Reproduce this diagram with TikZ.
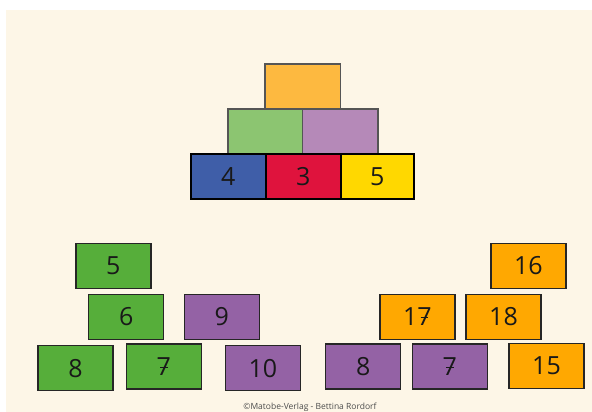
\documentclass[tikz,border=0pt]{standalone}
\usepackage{fontspec}
\setmainfont{Open Sans}
\definecolor{cream}{HTML}{FDF6E7}
\definecolor{topor}{HTML}{FDB940}
\definecolor{lgreen}{HTML}{8CC571}
\definecolor{lpurple}{HTML}{B589B8}
\definecolor{pblue}{HTML}{3F5EA8}
\definecolor{pred}{HTML}{DF133D}
\definecolor{pyellow}{HTML}{FFD800}
\definecolor{dgreen}{HTML}{56AE3A}
\definecolor{dpurple}{HTML}{9462A5}
\definecolor{dorange}{HTML}{FFA801}
\definecolor{greyline}{HTML}{555555}
\newcommand{\crossseven}{\ooalign{7\cr\hidewidth\raisebox{0.3em}{\rule{0.3em}{0.05em}}\hidewidth\cr}}
\tikzset{
  card/.style={draw=black!85, line width=1.4pt, minimum width=75pt, minimum height=45pt,
    inner sep=0pt, font=\fontsize{25}{25}\selectfont, text=black!90},
  upper/.style={card, draw=greyline, line width=1.5pt},
  base/.style={card, draw=black, line width=2pt},
}
\begin{document}
\begin{tikzpicture}[x=1pt,y=-1pt]
\useasboundingbox (0,0) rectangle (592,412);
\fill[cream] (6,10) rectangle (592,412);
% pyramid
\node[upper, fill=topor, minimum width=75.5pt] (top) at (302.8,86.5) {};
\node[upper, fill=lgreen, minimum width=74.7pt] (ml) at (265.3,131.5) {};
\node[upper, fill=lpurple, minimum width=75.3pt] (mr) at (340.3,131.5) {};
\node[base, fill=pblue, minimum width=75.3pt] (b1) at (228.3,176.5) {4};
\node[base, fill=pred, minimum width=74.7pt] (b2) at (303.3,176.5) {3};
\node[base, fill=pyellow, minimum width=73.3pt] (b3) at (377.3,176.5) {5};
% left group
\node[card, fill=dgreen] (l5) at (113.3,265.8) {5};
\node[card, fill=dgreen] (l6) at (126.2,316.8) {6};
\node[card, fill=dpurple] (l9) at (221.8,316.8) {9};
\node[card, fill=dgreen] (l8) at (75.5,368.2) {8};
\node[card, fill=dgreen] (l7) at (163.8,366.5) {\crossseven};
\node[card, fill=dpurple] (l10) at (262.8,368.2) {10};
% right group
\node[card, fill=dorange] (r16) at (528.3,265.8) {16};
\node[card, fill=dorange] (r17) at (417.3,316.8) {1\crossseven};
\node[card, fill=dorange] (r18) at (503.5,316.8) {18};
\node[card, fill=dpurple] (r8) at (363.2,366.5) {8};
\node[card, fill=dpurple] (r7) at (449.8,366.5) {\crossseven};
\node[card, fill=dorange] (r15) at (546.5,365.8) {15};
\node[font=\fontsize{8.5}{9}\selectfont, text=black!70] (copy) at (310,407.5) {©Matobe-Verlag - Bettina Rordorf};
\end{tikzpicture}
\end{document}
